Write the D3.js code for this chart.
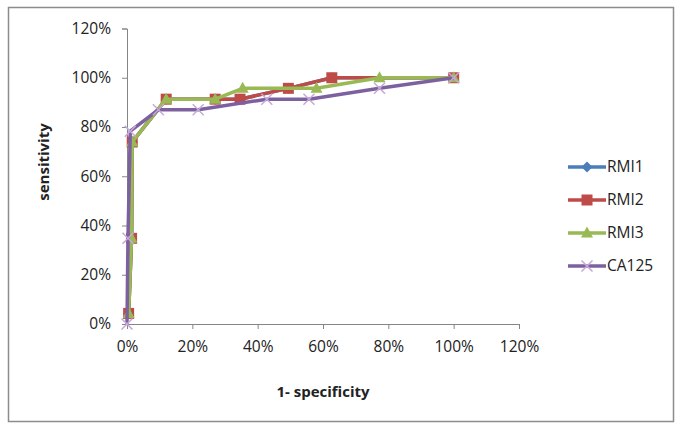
<!DOCTYPE html>
<html><head><meta charset="utf-8">
<script src="https://cdn.jsdelivr.net/npm/d3@7"></script>
<style>
body{margin:0;background:#fff;}
text{font-family:"Open Sans",sans-serif;fill:#222;}
</style></head>
<body><svg id="c" width="685" height="432"></svg>
<script>
const seriesNames = ["RMI1","RMI2","RMI3","CA125"];
const rmi1X = [0.5, 1.4, 1.6, 12, 27, 34.6, 49.4, 62.7, 100];
const rmi1Y = [4.3, 34.8, 73.9, 91.3, 91.3, 91.3, 95.7, 100, 100];
const rmi2X = [0.5, 1.4, 1.6, 12, 27, 34.6, 49.4, 62.7, 100];
const rmi2Y = [4.3, 34.8, 73.9, 91.3, 91.3, 91.3, 95.7, 100, 100];
const rmi3X = [0.5, 1.4, 1.6, 12, 27, 35.4, 58, 77.3, 100];
const rmi3Y = [4.3, 34.8, 73.9, 91.3, 91.3, 95.7, 95.7, 100, 100];
const ca125X = [0, 0.3, 1, 9.6, 21.8, 42.8, 55.7, 77.3, 100];
const ca125Y = [0, 34.8, 78.3, 87, 87, 91.3, 91.3, 95.7, 100];
const xTicks = [0,20,40,60,80,100,120];
const yTicks = [0,20,40,60,80,100,120];

const colors = ["#4A7EBB","#BE4B48","#98B954","#7D60A0"];
const markers = ["diamond","square","triangle","x"];
const xs = [rmi1X, rmi2X, rmi3X, ca125X];
const ys = [rmi1Y, rmi2Y, rmi3Y, ca125Y];

const svg = d3.select("#c");
svg.append("rect").attr("x",8.5).attr("y",7.5).attr("width",665).attr("height",414)
  .attr("fill","#fff").attr("stroke","#8c8c8c").attr("stroke-width",1.5);

const x = d3.scaleLinear().domain([0,120]).range([127,519]);
const y = d3.scaleLinear().domain([0,120]).range([324,28.5]);

const axisColor = "#868686";
const gx = svg.append("g").attr("transform","translate(0,324)")
  .call(d3.axisBottom(x).tickValues(xTicks).tickFormat(d=>d+"%").tickSize(5).tickPadding(12));
const gy = svg.append("g").attr("transform","translate(127,0)")
  .call(d3.axisLeft(y).tickValues(yTicks).tickFormat(d=>d+"%").tickSize(5).tickPadding(11));
[gx,gy].forEach(g=>{
  g.select(".domain").attr("stroke",axisColor).attr("stroke-width",1);
  g.selectAll(".tick line").attr("stroke",axisColor);
  g.selectAll(".tick text").style("font-size","15.5px").style("font-family","Open Sans").attr("fill","#222");
});

svg.append("text").attr("x",323).attr("y",397).attr("text-anchor","middle")
  .style("font-size","15px").style("font-weight","bold").text("1- specificity");
svg.append("text").attr("transform","translate(49,162) rotate(-90)").attr("text-anchor","middle")
  .style("font-size","15px").style("font-weight","bold").text("sensitivity");

function drawMarker(g, type, cx, cy, col){
  if(type==="diamond"){
    g.append("path").attr("d",`M${cx},${cy-5.5}L${cx+5.5},${cy}L${cx},${cy+5.5}L${cx-5.5},${cy}Z`).attr("fill",col);
  } else if(type==="square"){
    g.append("rect").attr("x",cx-5.5).attr("y",cy-5.5).attr("width",11).attr("height",11).attr("fill",col);
  } else if(type==="triangle"){
    g.append("path").attr("d",`M${cx},${cy-6.5}L${cx+6},${cy+4.5}L${cx-6},${cy+4.5}Z`).attr("fill",col);
  } else {
    g.append("path").attr("d",`M${cx-5.5},${cy-5.5}L${cx+5.5},${cy+5.5}M${cx+5.5},${cy-5.5}L${cx-5.5},${cy+5.5}`)
      .attr("stroke","#C7A9D8").attr("stroke-width",1.5).attr("fill","none");
  }
}

const line = d3.line().x(d=>x(d[0])).y(d=>y(d[1]));
seriesNames.forEach((name,i)=>{
  const pts = xs[i].map((v,j)=>[v, ys[i][j]]);
  const g = svg.append("g");
  g.append("path").datum(pts).attr("d",line).attr("fill","none")
    .attr("stroke",colors[i]).attr("stroke-width",3.5).attr("stroke-linejoin","round");
  pts.forEach(p=>drawMarker(g, markers[i], x(p[0]), y(p[1]), colors[i]));
});

// legend
const legY = [167,200,233,266];
seriesNames.forEach((name,i)=>{
  const g = svg.append("g");
  g.append("line").attr("x1",568).attr("x2",606).attr("y1",legY[i]).attr("y2",legY[i])
    .attr("stroke",colors[i]).attr("stroke-width",3.5);
  drawMarker(g, markers[i], 587, legY[i], colors[i]);
  g.append("text").attr("x",607).attr("y",legY[i]).attr("dy","0.35em")
    .style("font-size","15.5px").text(name);
});
</script></body></html>
